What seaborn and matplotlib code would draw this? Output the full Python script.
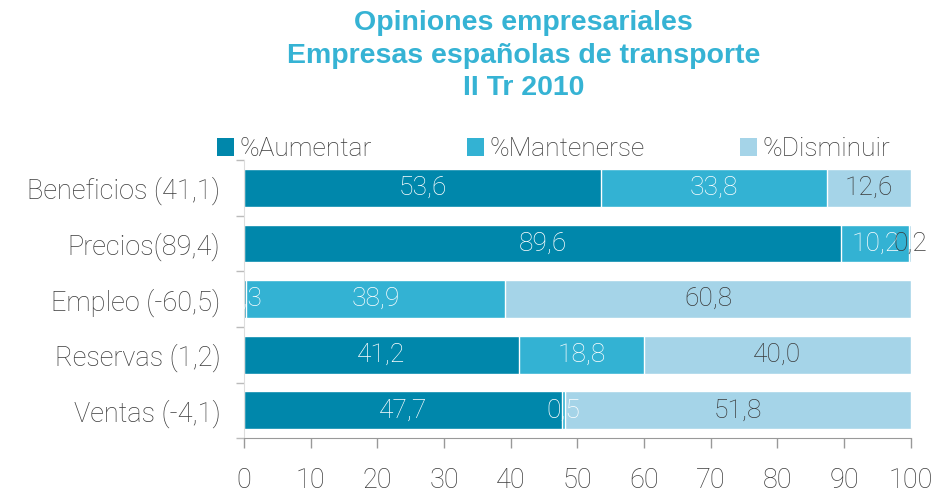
import pandas as pd
import matplotlib
matplotlib.use("Agg")
import matplotlib.pyplot as plt
import matplotlib.transforms as mtransforms
from matplotlib.patches import Patch
import seaborn as sns

# Data
categorias = ["Beneficios (41,1)", "Precios(89,4)", "Empleo (-60,5)",
              "Reservas (1,2)", "Ventas (-4,1)"]
aumentar = [53.6, 89.6, 0.3, 41.2, 47.7]
mantenerse = [33.8, 10.2, 38.9, 18.8, 0.5]
disminuir = [12.6, 0.2, 60.8, 40.0, 51.8]
series = ["%Aumentar", "%Mantenerse", "%Disminuir"]
colores = ["#0087AB", "#33B2D3", "#A5D4E8"]
color_txt = ["white", "white", "#3a3a3a"]
gris = "#3c3c3c"

df = pd.DataFrame({"cat": categorias, "%Aumentar": aumentar,
                   "%Mantenerse": mantenerse, "%Disminuir": disminuir})
cum = df[series].cumsum(axis=1)

sns.set_style("white")
plt.rcParams["font.family"] = ["Roboto", "DejaVu Sans"]

fig = plt.figure(figsize=(9.35, 4.94), dpi=100)
ax = fig.add_axes([0.261, 0.113, 0.713, 0.563])

# stacked bars: draw the cumulative totals from the back to the front
for i in reversed(range(3)):
    sns.barplot(x=cum[series[i]], y=df["cat"], orient="h", color=colores[i],
                width=0.68, saturation=1, ax=ax)

# labels clipped on the left edge only (the 0,3 of Empleo is cut there)
clip = mtransforms.TransformedBbox(mtransforms.Bbox([[0, -0.5], [1.2, 1.5]]),
                                   ax.transAxes)
for r in range(len(df)):
    left = 0
    for i, s in enumerate(series):
        v = df.loc[r, s]
        t = ax.text(left + v / 2, r, f"{v:.1f}".replace(".", ","),
                    ha="center", va="center", color=color_txt[i],
                    fontsize=19, fontweight="light")
        t.set_clip_box(clip)
        t.set_clip_on(True)
        left += v

ax.set_xlim(0, 100)
ax.set_ylim(4.5, -0.5)
ax.set_xticks(range(0, 101, 10))
ax.set_xlabel("")
ax.set_ylabel("")
ax.set_yticks([-0.5, 0.5, 1.5, 2.5, 3.5, 4.5], minor=True)
ax.tick_params(axis="y", which="major", length=0, pad=17, labelsize=19.5,
               labelcolor=gris)
ax.tick_params(axis="y", which="minor", length=6, color="#bbbbbb", width=1,
               direction="out", left=True)
ax.tick_params(axis="x", length=7, color="#999999", width=1, direction="out",
               bottom=True, pad=14, labelsize=19.5, labelcolor=gris)
for lab in ax.get_xticklabels() + ax.get_yticklabels():
    lab.set_fontweight("light")

sns.despine(ax=ax, top=True, right=True)
ax.spines["left"].set_color("#dddddd")
ax.spines["bottom"].set_color("#999999")

handles = [Patch(facecolor=c, edgecolor="none") for c in colores]
leg = fig.legend(handles, series, loc="center left",
                 bbox_to_anchor=(0.221, 1 - 149 / 494), ncol=3, frameon=False,
                 fontsize=19, handlelength=0.65, handleheight=0.65,
                 handletextpad=0.2, columnspacing=3.6, borderaxespad=0)
for t in leg.get_texts():
    t.set_color(gris)
    t.set_fontweight("light")

fig.text(0.56, 0.887, "Opiniones empresariales\nEmpresas españolas de transporte\nII Tr 2010",
         ha="center", va="center", fontsize=20.5, fontweight="bold",
         color="#36B3D4", linespacing=1.32, family=["Liberation Sans", "DejaVu Sans"])

fig.savefig("out.png", dpi=100)
